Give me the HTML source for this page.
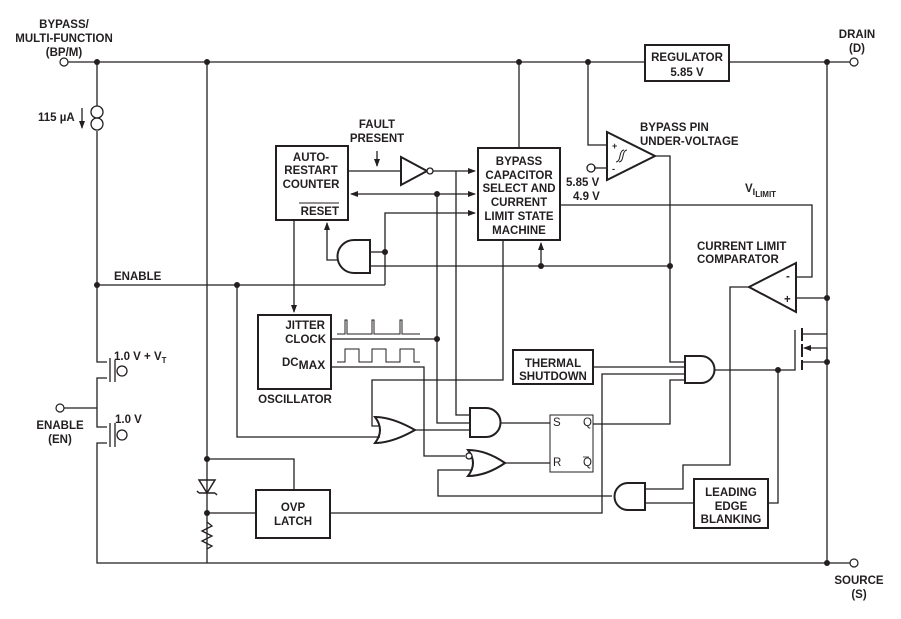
<!DOCTYPE html>
<html><head><meta charset="utf-8"><style>
html,body{margin:0;padding:0;background:#fff}
svg text{font-family:"Liberation Sans",Arial,sans-serif;font-weight:bold;font-size:11.5px;fill:#231f20}
</style></head><body>
<svg width="901" height="614" viewBox="0 0 901 614" xmlns="http://www.w3.org/2000/svg">
<defs><marker id="a" markerWidth="8" markerHeight="8" refX="7" refY="4" orient="auto" markerUnits="userSpaceOnUse"><path d="M0,1 L8,4 L0,7 z" fill="#231f20"/></marker></defs>
<g stroke="#231f20" stroke-width="1.3" fill="none">
<path d="M68,62 H645 M729,62 H850"/>
<path d="M97,62 V106 M97,131 V362 H107 M107,378 H97 V427 H107 M107,443 H97 V563 H850"/>
<path d="M64,408 H97"/>
<path d="M207,62 V563"/>
<path d="M827,62 V563"/>
<path d="M519,62 V148"/>
<path d="M588,62 V145 H607"/>
<path d="M594,168 H607"/>
<path d="M655,156 H670 V362 H685"/>
<circle cx="97" cy="112" r="6"/><circle cx="97" cy="124" r="6"/>
<path d="M110,358 V382 M115,360 V382 M110,423 V447 M115,423 V447"/>
<circle cx="122" cy="371" r="5"/><circle cx="122" cy="435" r="5"/>
<rect x="645" y="45" width="84" height="36" stroke-width="2"/>
<rect x="276" y="146" width="72" height="74" stroke-width="2"/>
<rect x="478" y="148" width="82" height="92" stroke-width="2"/>
<rect x="258" y="315" width="73" height="74" stroke-width="2"/>
<rect x="513" y="350" width="80" height="34" stroke-width="2"/>
<rect x="550" y="415" width="43" height="57" stroke-width="1"/>
<rect x="694" y="479" width="74" height="49" stroke-width="2"/>
<rect x="256" y="490" width="74" height="48" stroke-width="2"/>
<path d="M607,132 L655,156 L607,180 Z" stroke-width="2"/>
<path d="M616,162 q3,0 4,-6 q1,-6 4,-6 M619,162 q3,0 4,-6 q1,-6 4,-6" stroke-width="1"/>
<circle cx="591" cy="168" r="4"/>
<path d="M348,171 H401"/>
<path d="M377,151 V166" marker-end="url(#a)"/>
<path d="M401,157 L427,171 L401,185 Z" stroke-width="2"/>
<circle cx="430" cy="171" r="3" fill="#fff"/>
<path d="M433,171 H475" marker-end="url(#a)"/>
<path d="M437,194 H475" marker-end="url(#a)"/>
<path d="M437,194 H351" marker-end="url(#a)"/>
<path d="M437,194 V423 H470"/>
<path d="M456,171 V415 H470"/>
<path d="M385,285 V213 H475" marker-end="url(#a)"/>
<path d="M370,252 H385"/>
<path d="M370,266 H670"/>
<path d="M541,266 V243" marker-end="url(#a)"/>
<path d="M337,260 H327 V223" marker-end="url(#a)"/>
<path d="M370,240 V273 H354 A16.5,16.5 0 0 1 354,240 Z" stroke-width="2"/>
<path d="M97,285 H385"/>
<path d="M237,285 V437 H380"/>
<path d="M294,220 V312" marker-end="url(#a)"/>
<path d="M337,334 H345 V320 H347 V334 H372 V320 H374 V334 H400 V320 H402 V334 H420" stroke-width="1"/>
<path d="M337,362 H345 V349 H359 V362 H372 V349 H386 V362 H400 V349 H414 V362 H420" stroke-width="1"/>
<path d="M331,339 H437"/>
<path d="M331,367 H424 V456 H465"/>
<path d="M503,240 V380 H372 V426 H380"/>
<path d="M375,417 Q392,417 415,430 Q392,443 375,443 Q385,430 375,417 Z" stroke-width="2"/>
<path d="M415,430 H470"/>
<path d="M470,408 V437 H486 A14.5,14.5 0 0 0 486,408 Z" stroke-width="2"/>
<path d="M501,423 H550"/>
<path d="M468,450 Q486,450 505,463 Q486,476 468,476 Q478,463 468,450 Z" stroke-width="2"/>
<circle cx="469" cy="456" r="3" fill="#fff"/>
<path d="M505,463 H550"/>
<path d="M471,470 H438 V496 H612"/>
<path d="M593,424 H670 V380 H685"/>
<path d="M593,367 H685"/>
<path d="M330,513 H602 V374 H685"/>
<path d="M685,356 V383 H701 A13.5,13.5 0 0 0 701,356 Z" stroke-width="2"/>
<path d="M715,370 H795 V330"/>
<path d="M778,370 V503 H768"/>
<path d="M802,328 V341 M802,344 V357 M802,360 V370" stroke-width="2"/>
<path d="M802,334 H827 M802,362 H827 M827,348 V362"/>
<path d="M827,348 H804" marker-end="url(#a)"/>
<path d="M796,263 L749,287 L796,312 Z" stroke-width="2"/>
<path d="M749,287 H730 V465 H683 V489 H645"/>
<path d="M796,277 H812 V205 H560"/>
<path d="M796,298 H827"/>
<path d="M645,483 V510 H628 A13.5,13.5 0 0 1 628,483 Z" stroke-width="2"/>
<path d="M694,503 H645"/>
<path d="M207,459 H294 V490"/>
<path d="M207,513 H256"/>
<path d="M199,480 H215 L207,493 Z M199,493 H215 M197,491 L199,493 M215,493 L217,495" stroke-width="1.5" fill="none"/>
<path d="M207,522 L212,526 L202,531 L212,536 L202,541 L212,546 L207,549"/>
<path d="M82,108 V128" marker-end="url(#a)"/>
</g>
<g fill="#fff" stroke="#231f20" stroke-width="1.2">
<circle cx="64" cy="62" r="4"/><circle cx="854" cy="62" r="4"/><circle cx="60" cy="408" r="4"/><circle cx="854" cy="563" r="4"/>
</g>
<g fill="#231f20">
<circle cx="97" cy="62" r="3"/><circle cx="207" cy="62" r="3"/><circle cx="519" cy="62" r="3"/><circle cx="588" cy="62" r="3"/><circle cx="827" cy="62" r="3"/>
<circle cx="97" cy="285" r="3"/><circle cx="237" cy="285" r="3"/><circle cx="385" cy="252" r="3"/><circle cx="437" cy="194" r="3"/><circle cx="437" cy="339" r="3"/>
<circle cx="541" cy="266" r="3"/><circle cx="670" cy="266" r="3"/><circle cx="827" cy="298" r="3"/><circle cx="827" cy="362" r="3"/><circle cx="778" cy="370" r="3"/>
<circle cx="207" cy="459" r="3"/><circle cx="207" cy="513" r="3"/><circle cx="827" cy="563" r="3"/>
</g>
<g text-anchor="middle">
<text x="64" y="28">BYPASS/</text><text x="64" y="42">MULTI-FUNCTION</text><text x="64" y="56">(BP/M)</text>
<text x="857" y="38">DRAIN</text><text x="857" y="52">(D)</text>
<text x="687" y="61">REGULATOR</text><text x="687" y="76">5.85 V</text>
<text x="377" y="128">FAULT</text><text x="377" y="142">PRESENT</text>
<text x="311" y="161">AUTO-</text><text x="311" y="174">RESTART</text><text x="311" y="188">COUNTER</text>
<text x="519" y="165">BYPASS</text><text x="519" y="179">CAPACITOR</text><text x="519" y="192">SELECT AND</text><text x="519" y="206">CURRENT</text><text x="519" y="220">LIMIT STATE</text><text x="519" y="234">MACHINE</text>
<text x="553" y="367">THERMAL</text><text x="553" y="380">SHUTDOWN</text>
<text x="731" y="496">LEADING</text><text x="731" y="510">EDGE</text><text x="731" y="523">BLANKING</text>
<text x="293" y="511">OVP</text><text x="293" y="525">LATCH</text>
<text x="295" y="403">OSCILLATOR</text>
<text x="60" y="429">ENABLE</text><text x="60" y="443">(EN)</text>
<text x="859" y="584">SOURCE</text><text x="859" y="598">(S)</text>
</g>
<text x="38" y="121">115 µA</text>
<text x="339" y="215" text-anchor="end">RESET</text>
<path d="M299,203 H339" stroke="#231f20" stroke-width="1"/>
<text x="325" y="329" text-anchor="end">JITTER</text><text x="326" y="343" text-anchor="end">CLOCK</text>
<text x="282" y="366">DC<tspan font-size="12" dy="3">MAX</tspan></text>
<text x="640" y="131">BYPASS PIN</text><text x="640" y="145">UNDER-VOLTAGE</text>
<text x="566" y="186">5.85 V</text><text x="573" y="200">4.9 V</text>
<text x="745" y="192">V<tspan font-size="9" dy="3">I</tspan><tspan font-size="8" dy="2">LIMIT</tspan></text>
<text x="697" y="250">CURRENT LIMIT</text><text x="697" y="263">COMPARATOR</text>
<text x="114" y="360">1.0 V + V<tspan font-size="8" dy="3">T</tspan></text>
<text x="115" y="423">1.0 V</text>
<text x="114" y="280">ENABLE</text>
<g style="font-size:8px">
<text x="612" y="149" style="font-size:9px">+</text><text x="612" y="172" style="font-size:9px">-</text>
<text x="786" y="280">-</text><text x="784" y="303">+</text>
<text x="553" y="426" style="font-weight:normal">S</text><text x="583" y="426" style="font-weight:normal">Q</text>
<text x="553" y="466" style="font-weight:normal">R</text><text x="583" y="466" style="font-weight:normal">Q</text>
</g>
<path d="M583,457 H589" stroke="#231f20" stroke-width="0.8"/>
</svg>
</body></html>
